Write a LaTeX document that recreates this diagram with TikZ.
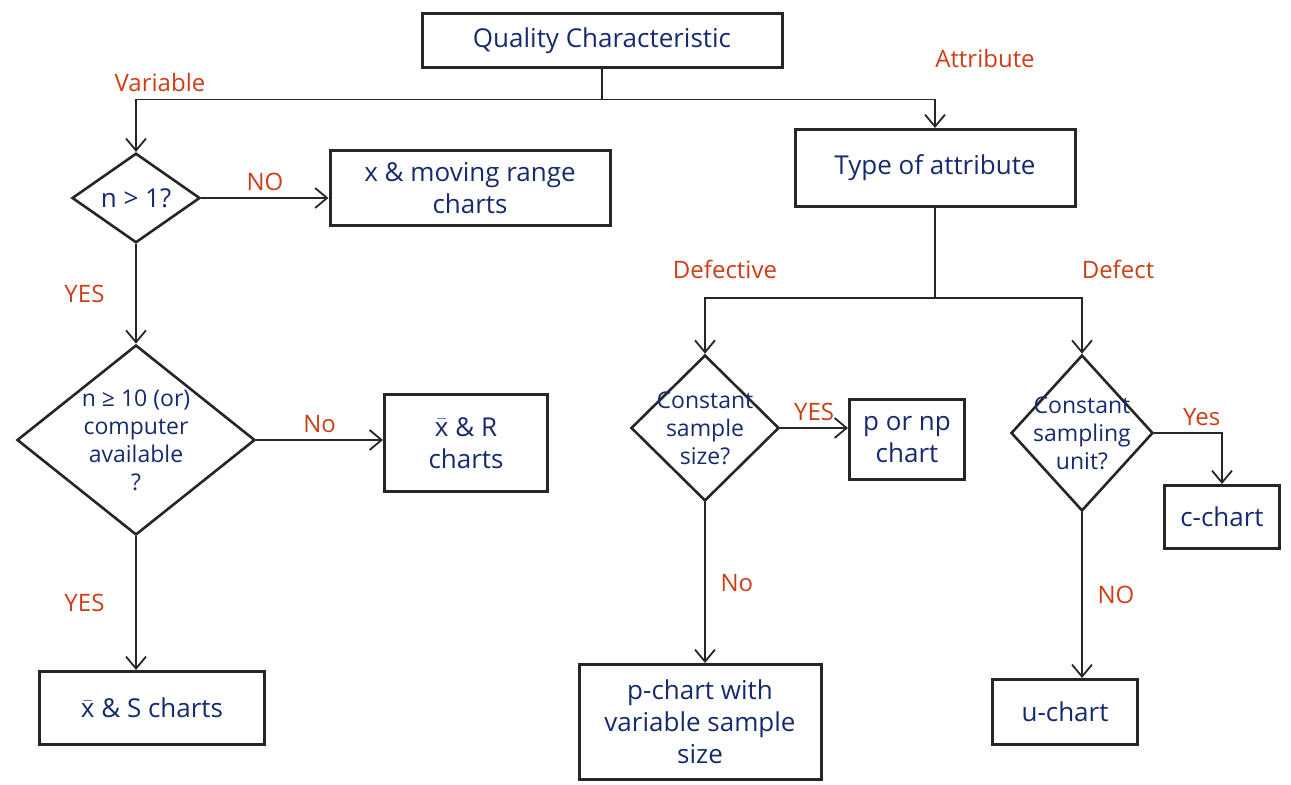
\documentclass[tikz,border=0pt]{standalone}
\usepackage{fontspec}
\usepackage{amsmath}
\setmainfont{Open Sans}
\usetikzlibrary{shapes.geometric,arrows.meta,positioning}
\definecolor{ink}{RGB}{22,42,110}
\definecolor{pen}{RGB}{205,62,22}
\newcommand{\xbar}{$\bar{\text{x}}$}

\begin{document}
\begin{tikzpicture}[
        x=0.5pt, y=-0.5pt,
        every node/.style={font=\fontsize{13}{16}\selectfont, text=ink, align=center},
        box/.style={draw=black!85, line width=1.5pt, inner sep=3pt},
        decision/.style={diamond, draw=black!85, line width=1.3pt, inner sep=0pt},
        every label/.style={font=\fontsize{11.5}{14}\selectfont},
        lbl/.style={text=pen, font=\fontsize{12}{14}\selectfont},
        link/.style={draw=black!85, line width=0.9pt},
        arrow/.style={link, -{Straight Barb[length=6pt, width=10pt]}}
    ]
    \useasboundingbox (0,0) rectangle (1291,785);

    % variable side
    \node[box, minimum width=180pt, minimum height=27pt] (qc) at (602,41) {Quality Characteristic};
    \node[decision, minimum width=64pt, minimum height=40pt] (nsize) at (136,198) {n > 1?};
    \node[box, minimum width=140pt, minimum height=37.5pt] (nmr) at (470,188) {x \& moving range\\charts};
    \node[decision, minimum width=119pt, minimum height=95pt,
          label={center:{n ≥ 10 (or)\\computer\\available\\?}}] (big) at (136,440) {};
    \node[box, minimum width=81.5pt, minimum height=48.5pt] (xr) at (466,443) {\xbar{} \& R\\charts};
    \node[box, minimum width=112.5pt, minimum height=36.5pt] (xs) at (152,708) {\xbar{} \& S charts};

    % attribute side
    \node[box, minimum width=140pt, minimum height=38.5pt] (toa) at (935,168) {Type of attribute};
    \node[decision, minimum width=74pt, minimum height=73pt,
          label={center:{Constant\\sample\\size?}}] (cons) at (705,428) {};
    \node[box, minimum width=57.5pt, minimum height=40pt] (pnp) at (907,440) {p or np\\chart};
    \node[box, minimum width=121pt, minimum height=57.5pt] (pvar) at (700,722) {p-chart with\\variable sample\\size};
    \node[decision, minimum width=71pt, minimum height=78pt,
          label={center:{Constant\\sampling\\unit?}}] (unit) at (1082,433) {};
    \node[box, minimum width=57.5pt, minimum height=31.5pt] (cc) at (1222,517) {c-chart};
    \node[box, minimum width=72.5pt, minimum height=32.5pt] (uc) at (1065,712) {u-chart};

    \coordinate (split) at ([yshift=-15pt]qc.south);
    \coordinate (fork) at ([yshift=-45pt]toa.south);

    \draw[link] (qc.south) -- (split);
    \draw[arrow] (split) -| node[lbl, pos=0.5, anchor=south, xshift=12pt] {Variable} (nsize.north);
    \draw[arrow] (split) -| node[lbl, pos=0.5, anchor=south, xshift=25pt, yshift=12pt] {Attribute} (toa.north);

    \draw[arrow] (nsize.east) -- node[lbl, above] {NO} (nsize.east -| nmr.west);
    \draw[arrow] (nsize.south) -- node[lbl, left=12pt] {YES} (big.north);
    \draw[arrow] (big.east) -- node[lbl, above] {No} (big.east -| xr.west);
    \draw[arrow] (big.south) -- node[lbl, left=12pt] {YES} (big.south |- xs.north);

    \draw[link] (toa.south) -- (fork);
    \draw[arrow] (fork) -| node[lbl, pos=0.5, anchor=south, xshift=10pt, yshift=6pt] {Defective} (cons.north);
    \draw[arrow] (fork) -| node[lbl, pos=0.5, anchor=south, xshift=18pt, yshift=6pt] {Defect} (unit.north);

    \draw[arrow] (cons.east) -- node[lbl, above] {YES} (cons.east -| pnp.west);
    \draw[arrow] (cons.south) -- node[lbl, right=4pt] {No} (cons.south |- pvar.north);
    \draw[arrow] (unit.east) -| node[lbl, pos=0.35, above] {Yes} (cc.north);
    \draw[arrow] (unit.south) -- node[lbl, right=4pt] {NO} (unit.south |- uc.north);
\end{tikzpicture}
\end{document}
